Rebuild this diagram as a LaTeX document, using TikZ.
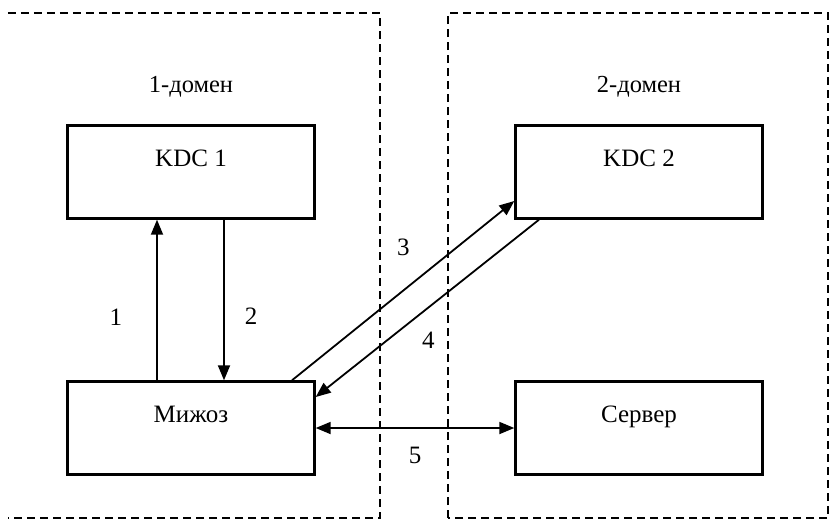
\documentclass[tikz,border=0pt]{standalone}
\usepackage{fontspec}
\setmainfont{Liberation Serif}
\usetikzlibrary{positioning,arrows.meta}

\newcommand{\kerbBoxWidth}{247pt}
\newcommand{\kerbBoxHeight}{93pt}
\tikzset{
  kb base/.style={font=\fontsize{25}{30}\selectfont},
  kb arrow/.style={line width=1.8pt,-{Triangle[length=15pt,width=12pt]}},
  kb twoway/.style={line width=1.8pt,
    {Triangle[length=15pt,width=12pt]}-{Triangle[length=15pt,width=12pt]}},
  kb box/.style={draw, rectangle, line width=2.4pt,
    minimum width=\kerbBoxWidth, minimum height=\kerbBoxHeight,
    inner sep=0pt, text height=41pt, text depth=52pt},
  kb domain/.style={line width=1.6pt, dash pattern=on 8pt off 5pt},
  kb title/.style={inner sep=0pt, text height=17pt, text depth=5pt,
    font=\fontsize{24.5}{29}\selectfont},
  kb num/.style={inner sep=2pt},
}

\begin{document}
\begin{tikzpicture}[
    kb base,
    node distance=256pt,
    box/.style={kb box},
    arrow/.style={kb arrow}
]
\useasboundingbox (-191pt,-348pt) rectangle (638pt,172pt);

\node (kdc1)   [box] {KDC 1};
\node (client) [box, below of=kdc1] {Мижоз};
\node (kdc2)   [box, node distance=448pt, right of=kdc1] {KDC 2};
\node (server) [box, node distance=448pt, right of=client] {Сервер};
\node (dom1)   [kb title, node distance=86pt, above of=kdc1] {1-домен};
\node (dom2)   [kb title, node distance=86pt, above of=kdc2] {2-домен};

\draw [kb domain] (-183pt,159pt) -- (189pt,159pt) -- (189pt,-346pt) -- (-183pt,-346pt);
\draw [kb domain] (257pt,-346pt) rectangle (637pt,159pt);

\draw [arrow] ([xshift=-34pt]client.north) -- ([xshift=-34pt]kdc1.south)
  node [kb num, pos=0.39, left=32pt] {1};
\draw [arrow] ([xshift=33pt]kdc1.south) -- ([xshift=33pt]client.north)
  node [kb num, pos=0.6, right=18pt] {2};
\draw [arrow] ([xshift=101pt]client.north) -- ([yshift=-29pt]kdc2.west)
  node [kb num, pos=0.74, left=44pt] {3};
\draw [arrow] ([xshift=-100pt]kdc2.south) -- ([yshift=31pt]client.east)
  node [kb num, pos=0.68, right=32pt] {4};
\draw [kb twoway] (client.east) -- (server.west)
  node [kb num, midway, below=16pt] {5};
\end{tikzpicture}
\end{document}
